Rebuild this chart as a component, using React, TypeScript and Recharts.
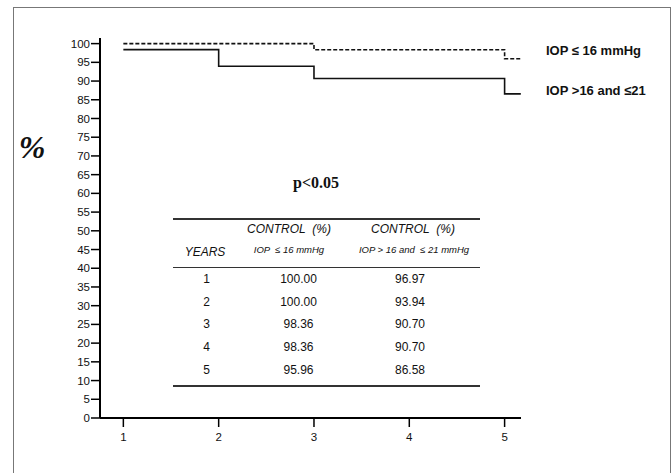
import React from "react";
import { LineChart, Line, XAxis, YAxis } from "recharts";

// survival curves (years vs % controlled)
const years = [1, 2, 3, 4, 5, 5.17];
const iopLow = [100, 100, 98.36, 98.36, 95.96, 95.96];
const iopHigh = [98.4, 93.94, 90.7, 90.7, 86.58, 86.58];

const xTicks = [1, 2, 3, 4, 5];
const yTicks = [0, 5, 10, 15, 20, 25, 30, 35, 40, 45, 50, 55, 60, 65, 70, 75, 80, 85, 90, 95, 100];

// table inside the plot
const tableYears = ["1", "2", "3", "4", "5"];
const tableLow = ["100.00", "100.00", "98.36", "98.36", "95.96"];
const tableHigh = ["96.97", "93.94", "90.70", "90.70", "86.58"];

const data = years.map((y, i) => ({ year: y, low: iopLow[i], high: iopHigh[i] }));

const SANS = "'Liberation Sans', Arial, sans-serif";
const SERIF = "'Liberation Serif', 'Times New Roman', serif";

type TProps = {
  x: number;
  y: number;
  size: number;
  align?: "left" | "center";
  style?: React.CSSProperties;
  children: React.ReactNode;
};

// text placed by its center (or left edge) and vertical middle
function T({ x, y, size, align = "center", style, children }: TProps) {
  const lh = Math.round(size * 1.2);
  const w = 240;
  return (
    <div
      style={{
        position: "absolute",
        left: align === "center" ? x - w / 2 : x,
        top: y - size * 0.58,
        width: w,
        textAlign: align,
        fontSize: size,
        lineHeight: `${lh}px`,
        whiteSpace: "pre",
        fontFamily: SANS,
        color: "#111",
        ...style,
      }}
    >
      {children}
    </div>
  );
}

function HLine({ y }: { y: number }) {
  return (
    <div
      style={{
        position: "absolute",
        left: 173,
        top: y - 0.7,
        width: 307,
        height: 1.4,
        background: "#333",
      }}
    />
  );
}

export default function App() {
  const rowY = [279, 301.5, 324, 347, 370];
  return (
    <div
      style={{
        position: "absolute",
        left: 0,
        top: 0,
        width: 671,
        height: 473,
        overflow: "hidden",
        background: "#fff",
        fontFamily: SANS,
      }}
    >
      {/* outer frame */}
      <div
        style={{
          position: "absolute",
          left: 13,
          top: 7,
          width: 656,
          height: 500,
          border: "1.5px solid #777",
        }}
      />

      <LineChart
        width={671}
        height={473}
        data={data}
        margin={{ top: 38, right: 150, left: 0, bottom: 25 }}
        style={{ position: "absolute", left: 0, top: 0 }}
      >
        <XAxis
          dataKey="year"
          type="number"
          domain={[0.755, 5.172]}
          ticks={xTicks}
          allowDataOverflow
          height={30}
          tickSize={9}
          tickMargin={6}
          axisLine={{ stroke: "#000", strokeWidth: 2 }}
          tickLine={{ stroke: "#000", strokeWidth: 1.5 }}
          tick={{ fontSize: 11.5, fill: "#111", fontFamily: SANS }}
        />
        <YAxis
          type="number"
          domain={[0, 101.5]}
          ticks={yTicks}
          width={100}
          interval={0}
          tickSize={9}
          tickMargin={1}
          axisLine={{ stroke: "#000", strokeWidth: 2 }}
          tickLine={{ stroke: "#000", strokeWidth: 1.5 }}
          tick={{ fontSize: 11.5, fill: "#111", fontFamily: SANS }}
        />
        <Line
          dataKey="low"
          type="stepAfter"
          stroke="#111"
          strokeWidth={1.6}
          strokeDasharray="4 2"
          dot={false}
          isAnimationActive={false}
        />
        <Line
          dataKey="high"
          type="stepAfter"
          stroke="#111"
          strokeWidth={1.6}
          dot={false}
          isAnimationActive={false}
        />
      </LineChart>

      {/* axis title */}
      <T x={32} y={147} size={32} style={{ fontFamily: SERIF, fontStyle: "italic", fontWeight: 700 }}>
        %
      </T>

      {/* series labels */}
      <T x={546} y={51} size={13} align="left" style={{ fontWeight: 700 }}>
        IOP ≤ 16 mmHg
      </T>
      <T x={546} y={91} size={13} align="left" style={{ fontWeight: 700 }}>
        IOP {">"}16 and ≤21
      </T>

      <T x={316} y={182} size={16} style={{ fontFamily: SERIF, fontWeight: 700 }}>
        p{"<"}0.05
      </T>

      {/* table */}
      <HLine y={219} />
      <T x={289} y={229} size={12} style={{ fontStyle: "italic" }}>
        CONTROL  (%)
      </T>
      <T x={413} y={229} size={12} style={{ fontStyle: "italic" }}>
        CONTROL  (%)
      </T>
      <T x={205} y={251.5} size={12} style={{ fontStyle: "italic" }}>
        YEARS
      </T>
      <T x={289} y={249.5} size={9.5} style={{ fontStyle: "italic" }}>
        IOP  ≤ 16 mmHg
      </T>
      <T x={414} y={249.5} size={9.5} style={{ fontStyle: "italic" }}>
        IOP {">"} 16 and  ≤ 21 mmHg
      </T>
      <HLine y={267.5} />
      {tableYears.map((yr, i) => (
        <React.Fragment key={yr}>
          <T x={206.5} y={rowY[i]} size={12}>
            {yr}
          </T>
          <T x={298.5} y={rowY[i]} size={12}>
            {tableLow[i]}
          </T>
          <T x={410} y={rowY[i]} size={12}>
            {tableHigh[i]}
          </T>
        </React.Fragment>
      ))}
      <HLine y={386} />
    </div>
  );
}
